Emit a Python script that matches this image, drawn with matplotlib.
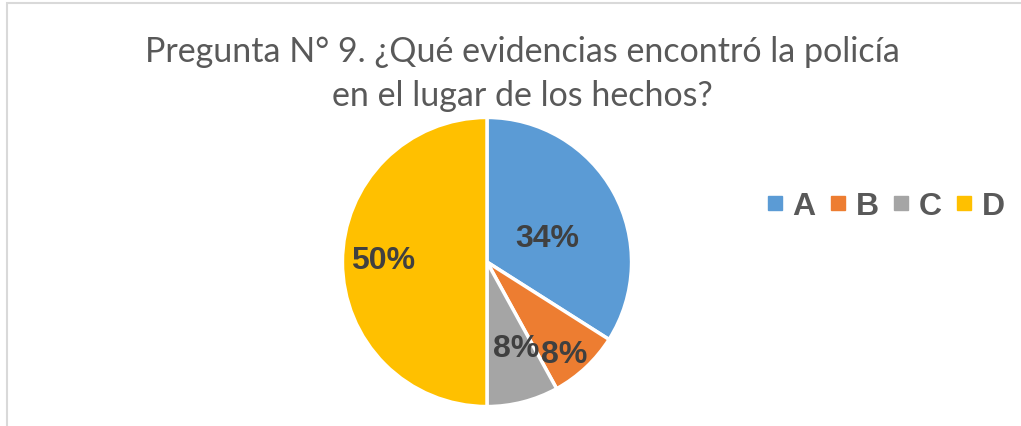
import matplotlib
matplotlib.use('Agg')
import matplotlib.pyplot as plt
from matplotlib.patches import Rectangle
from matplotlib.lines import Line2D
import numpy as np

TITLE = "Pregunta N° 9. ¿Qué evidencias encontró la policía\nen el lugar de los hechos?"
CATS = ['A', 'B', 'C', 'D']
VALUES = [34, 8, 8, 50]
COLORS = ['#5b9bd5', '#ed7d31', '#a5a5a5', '#ffc000']
# label placement: radius (fraction) and angle tweak (deg) per wedge
DIST = [0.45, 0.83, 0.63, 0.72]
TWEAK = [-7, -3, 4, -1]

fig = plt.figure(figsize=(10.21, 4.27), dpi=100)
fig.patch.set_facecolor('white')

# chart frame
fig.add_artist(Rectangle((7 / 1021, -0.2), 1.2, 1.2 - 4 / 427,
                         transform=fig.transFigure, fill=False,
                         edgecolor='#d9d9d9', lw=1.5))

fig.text(0.512, 1 - 106 / 427, TITLE, ha='center', va='baseline', fontsize=24.5,
         color='#595959', family='Lato', linespacing=1.45)

ax = fig.add_axes([(487 - 146) / 1021, (427 - 409) / 427, 292 / 1021, 292 / 427])
wedges, _ = ax.pie(VALUES, colors=COLORS, startangle=90, counterclock=False,
                   wedgeprops=dict(edgecolor='white', linewidth=2.5))
ax.set_xlim(-1.01, 1.01)
ax.set_ylim(-1.01, 1.01)
ax.set_aspect('equal')

for w, v, d, t in zip(wedges, VALUES, DIST, TWEAK):
    ang = np.deg2rad((w.theta1 + w.theta2) / 2 + t)
    ax.text(d * np.cos(ang), d * np.sin(ang), f"{v}%", ha='center', va='center',
            fontsize=23, fontweight='bold', color='#404040', family='Liberation Sans')

handles = [Line2D([], [], marker='s', ls='', color=c, markersize=10) for c in COLORS]
fig.legend(handles, CATS, loc='center', bbox_to_anchor=(885 / 1021, 1 - 207 / 427), ncol=4,
           frameon=False, handletextpad=0.25, columnspacing=0.4, handlelength=0.6,
           borderpad=0, prop=dict(family='Liberation Sans', weight='bold', size=23),
           labelcolor='#595959')

fig.savefig('out.png', dpi=100)
